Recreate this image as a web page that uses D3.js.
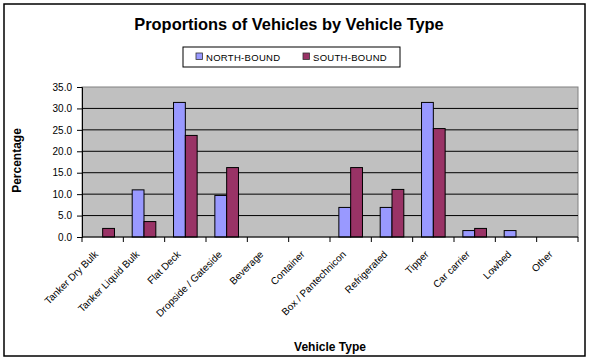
<!doctype html>
<html lang="en">

<head>
    <meta charset="utf-8">
    <title>Proportions of Vehicles by Vehicle Type</title>
    <script src="https://cdn.jsdelivr.net/npm/d3@7"></script>
    <style>
        body {
            margin: 0;
            background: #ffffff;
        }

        svg {
            display: block;
            font-family: Arial, "Liberation Sans", sans-serif;
        }
    </style>
</head>

<body>
    <svg></svg>
    <script>
        var width = 591;
        var height = 361;

        var categories = ["Tanker Dry Bulk", "Tanker Liquid Bulk", "Flat Deck", "Dropside / Gateside", "Beverage",
            "Container", "Box / Pantechnicon", "Refrigerated", "Tipper", "Car carrier", "Lowbed", "Other"];
        var seriesNames = ["NORTH-BOUND", "SOUTH-BOUND"];
        var northBound = [0, 11.0, 31.4, 9.7, 0, 0, 6.9, 6.9, 31.4, 1.5, 1.5, 0];
        var southBound = [2.0, 3.6, 23.7, 16.2, 0, 0, 16.2, 11.1, 25.3, 2.0, 0, 0];
        var yTicks = [0, 5, 10, 15, 20, 25, 30, 35];
        var colors = ["#9999FF", "#993366"];

        // plot area in pixels
        var plotLeft = 82, plotRight = 578, plotTop = 87, plotBottom = 237;

        var svg = d3.select('svg').attr("width", width).attr("height", height);

        // chart area border
        svg.append("rect")
            .attr("x", 4).attr("y", 4)
            .attr("width", 581).attr("height", 352)
            .attr("fill", "#ffffff")
            .attr("stroke", "#000000")
            .attr("stroke-width", 1.5);

        svg.append("text")
            .attr("x", 289).attr("y", 30)
            .attr("text-anchor", "middle")
            .attr("font-size", "16.4px")
            .attr("font-weight", "bold")
            .text("Proportions of Vehicles by Vehicle Type");

        var xScale = d3.scaleBand()
            .domain(d3.range(categories.length))
            .range([plotLeft, plotRight])
            .paddingInner(0);

        var xSub = d3.scaleBand()
            .domain(d3.range(seriesNames.length))
            .range([0, xScale.bandwidth()])
            .paddingInner(0)
            .paddingOuter(0.75);

        var yScale = d3.scaleLinear()
            .domain([0, 35])
            .range([plotBottom, plotTop]);

        // plot background
        svg.append("rect")
            .attr("x", plotLeft).attr("y", plotTop)
            .attr("width", plotRight - plotLeft).attr("height", plotBottom - plotTop)
            .attr("fill", "#C0C0C0")
            .attr("stroke", "#808080")
            .attr("stroke-width", 1);

        // gridlines
        svg.selectAll("line.grid")
            .data(yTicks.filter(function (d) { return d > 0 && d < 35; }))
            .enter()
            .append("line")
            .attr("class", "grid")
            .attr("x1", plotLeft).attr("x2", plotRight)
            .attr("y1", function (d) { return yScale(d); })
            .attr("y2", function (d) { return yScale(d); })
            .attr("stroke", "#000000")
            .attr("stroke-width", 1);

        var series = [northBound, southBound];

        // bars (zero values are not drawn)
        series.forEach(function (values, s) {
            svg.selectAll("rect.s" + s)
                .data(values.map(function (v, i) { return { i: i, v: v }; }).filter(function (d) { return d.v > 0; }))
                .enter()
                .append("rect")
                .attr("class", "s" + s)
                .attr("x", function (d) { return xScale(d.i) + xSub(s); })
                .attr("y", function (d) { return yScale(d.v); })
                .attr("width", xSub.bandwidth())
                .attr("height", function (d) { return plotBottom - yScale(d.v); })
                .attr("fill", colors[s])
                .attr("stroke", "#000000")
                .attr("stroke-width", 1);
        });

        // y axis
        var yAxis = d3.axisLeft(yScale)
            .tickValues(yTicks)
            .tickFormat(d3.format(".1f"))
            .tickSize(5)
            .tickPadding(5);

        var gy = svg.append("g")
            .attr("transform", "translate(" + plotLeft + ",0)")
            .call(yAxis);
        gy.select(".domain").attr("stroke", "#000000");
        gy.selectAll("text").attr("font-size", "10px").attr("font-family", "Arial, 'Liberation Sans', sans-serif");

        // x axis (ticks on band boundaries)
        var boundaries = d3.range(categories.length + 1).map(function (i) {
            return i < categories.length ? xScale(i) : plotRight;
        });
        svg.append("line")
            .attr("x1", plotLeft).attr("x2", plotRight)
            .attr("y1", plotBottom).attr("y2", plotBottom)
            .attr("stroke", "#000000");
        svg.selectAll("line.xtick")
            .data(boundaries)
            .enter()
            .append("line")
            .attr("class", "xtick")
            .attr("x1", function (d) { return d; })
            .attr("x2", function (d) { return d; })
            .attr("y1", plotBottom).attr("y2", plotBottom + 5)
            .attr("stroke", "#000000");

        svg.selectAll("text.xlabel")
            .data(categories)
            .enter()
            .append("text")
            .attr("class", "xlabel")
            .attr("text-anchor", "end")
            .attr("font-size", "10px")
            .attr("transform", function (d, i) {
                var cx = xScale(i) + xScale.bandwidth() / 2;
                return "translate(" + (cx - 4) + "," + 255 + ") rotate(-45)";
            })
            .text(function (d) { return d; });

        // axis titles
        svg.append("text")
            .attr("x", 330).attr("y", 351)
            .attr("text-anchor", "middle")
            .attr("font-size", "12px")
            .attr("font-weight", "bold")
            .text("Vehicle Type");

        svg.append("text")
            .attr("transform", "translate(20.5,160.5) rotate(-90)")
            .attr("text-anchor", "middle")
            .attr("font-size", "12px")
            .attr("font-weight", "bold")
            .text("Percentage");

        // legend
        var legend = svg.append("g");
        legend.append("rect")
            .attr("x", 183).attr("y", 47)
            .attr("width", 217).attr("height", 20)
            .attr("fill", "#ffffff")
            .attr("stroke", "#000000")
            .attr("stroke-width", 1);

        var legendX = [196, 303];
        seriesNames.forEach(function (name, s) {
            legend.append("rect")
                .attr("x", legendX[s]).attr("y", 53)
                .attr("width", 6.5).attr("height", 6.5)
                .attr("fill", colors[s])
                .attr("stroke", "#333333")
                .attr("stroke-width", 0.8);
            legend.append("text")
                .attr("x", legendX[s] + 10).attr("y", 60.5)
                .attr("font-size", "9.5px")
                .attr("letter-spacing", "0.3px")
                .text(name);
        });
    </script>

</body>

</html>
